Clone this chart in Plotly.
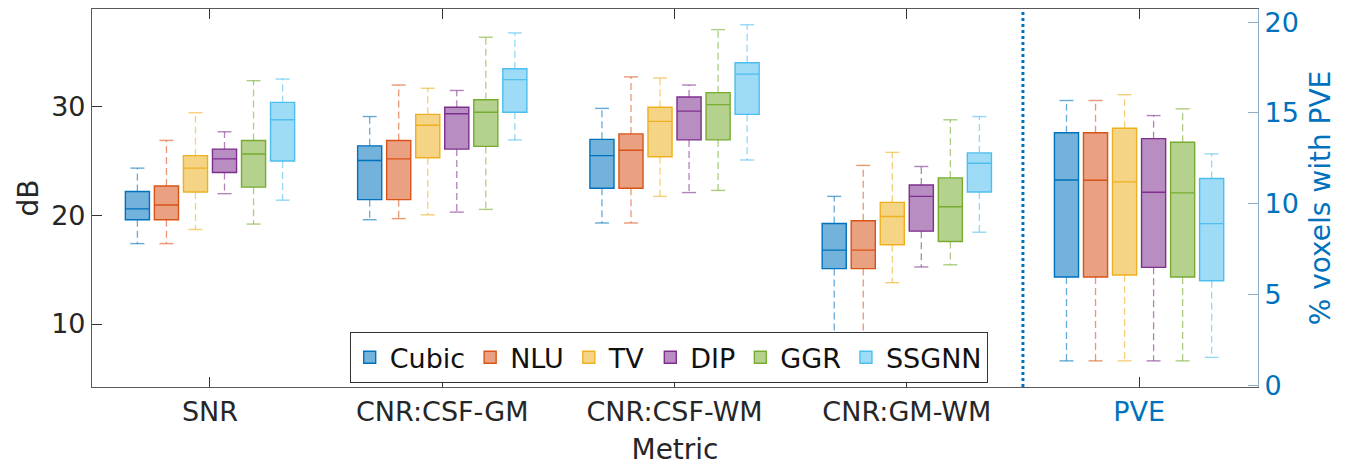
import plotly.graph_objects as go

# ---------------- data ----------------
metrics = ["SNR", "CNR:CSF-GM", "CNR:CSF-WM", "CNR:GM-WM"]
pve_category = ["PVE"]
methods = ["Cubic", "NLU", "TV", "DIP", "GGR", "SSGNN"]
rgb = [(0, 114, 189), (217, 83, 25), (237, 177, 32), (126, 47, 142), (119, 172, 48), (77, 190, 238)]

# dB metrics (left axis): one list per method, in the order of `metrics`
lower_db = {
    "Cubic": [17.4, 19.6, 19.3, 9.1],
    "NLU":   [17.4, 19.7, 19.3, 9.1],
    "TV":    [18.7, 20.05, 21.75, 13.8],
    "DIP":   [22.0, 20.3, 22.1, 15.25],
    "GGR":   [19.2, 20.55, 22.3, 15.45],
    "SSGNN": [21.4, 26.95, 25.1, 18.45],
}
q1_db = {
    "Cubic": [19.6, 21.45, 22.5, 15.1],
    "NLU":   [19.6, 21.45, 22.5, 15.1],
    "TV":    [22.15, 25.3, 25.4, 17.3],
    "DIP":   [23.95, 26.1, 26.95, 18.55],
    "GGR":   [22.6, 26.35, 26.95, 17.6],
    "SSGNN": [25.0, 29.5, 29.3, 22.15],
}
median_db = {
    "Cubic": [20.6, 25.05, 25.5, 16.8],
    "NLU":   [20.95, 25.2, 26.0, 16.8],
    "TV":    [24.35, 28.3, 28.65, 19.9],
    "DIP":   [25.2, 29.35, 29.6, 21.75],
    "GGR":   [25.65, 29.5, 30.2, 20.8],
    "SSGNN": [28.8, 32.5, 33.0, 24.8],
}
q3_db = {
    "Cubic": [22.2, 26.4, 27.0, 19.25],
    "NLU":   [22.7, 26.9, 27.5, 19.5],
    "TV":    [25.5, 29.3, 29.95, 21.2],
    "DIP":   [26.1, 29.95, 30.9, 22.8],
    "GGR":   [26.9, 30.65, 31.3, 23.45],
    "SSGNN": [30.4, 33.5, 34.05, 25.75],
}
upper_db = {
    "Cubic": [24.35, 29.1, 29.85, 21.75],
    "NLU":   [26.9, 32.0, 32.75, 24.6],
    "TV":    [29.45, 31.7, 32.65, 25.8],
    "DIP":   [27.7, 31.5, 32.0, 24.5],
    "GGR":   [32.4, 36.4, 37.1, 28.8],
    "SSGNN": [32.55, 36.8, 37.55, 29.1],
}

# PVE (% voxels, right axis): one value per method, in the order of `methods`
pve_lower = [1.34, 1.34, 1.34, 1.34, 1.34, 1.53]
pve_q1 = [5.96, 5.96, 6.07, 6.49, 5.96, 5.75]
pve_median = [11.3, 11.29, 11.2, 10.63, 10.59, 8.9]
pve_q3 = [13.9, 13.9, 14.15, 13.58, 13.38, 11.38]
pve_upper = [15.68, 15.68, 16.0, 14.85, 15.22, 12.74]

left_ticks = [10, 20, 30]
right_ticks = [0, 5, 10, 15, 20]

# ---------------- figure ----------------
FONT = "DejaVu Sans"
TXT = "#262626"
BLUE = "#0072BD"
AX = "#5a5a5a"


def rgba(c, a):
    return f"rgba({c[0]},{c[1]},{c[2]},{a})"


fig = go.Figure()


def add_boxes(i, m, cats, lo, q1, med, q3, hi, yaxis):
    c = rgb[i]
    # box (interquartile range + median)
    fig.add_trace(go.Box(
        name=m, legendgroup=m, showlegend=(yaxis == "y"), x=cats,
        lowerfence=q1, q1=q1, median=med, q3=q3, upperfence=q3,
        fillcolor=rgba(c, 0.55), line=dict(color=rgba(c, 1), width=1.4),
        whiskerwidth=0, yaxis=yaxis, hoverinfo="skip",
        offsetgroup=m, alignmentgroup="all",
    ))
    # dashed whiskers with end caps, built from the same quartile/fence values
    wx, wy, ws = [], [], []
    for k, cat in enumerate(cats):
        wx += [cat, cat, None, cat, cat, None]
        wy += [q3[k], hi[k], None, q1[k], lo[k], None]
        ws += [0, 10, 0, 0, 10, 0]
    fig.add_trace(go.Scatter(
        name=m, legendgroup=m, showlegend=False, x=wx, y=wy,
        mode="lines+markers", connectgaps=False,
        line=dict(color=rgba(c, 0.6), width=1.3, dash="7px,4px"),
        marker=dict(symbol="line-ew", size=ws,
                    line=dict(color=rgba(c, 0.85), width=1.4)),
        yaxis=yaxis, hoverinfo="skip",
        offsetgroup=m, alignmentgroup="all",
    ))


for i, m in enumerate(methods):
    add_boxes(i, m, metrics, lower_db[m], q1_db[m], median_db[m], q3_db[m], upper_db[m], "y")
for i, m in enumerate(methods):
    add_boxes(i, m, pve_category, [pve_lower[i]], [pve_q1[i]], [pve_median[i]],
              [pve_q3[i]], [pve_upper[i]], "y2")

categories = metrics + pve_category
ticktext = metrics + [f"<span style='color:{BLUE}'>PVE</span>"]

fig.update_layout(
    width=1358, height=466,
    margin=dict(l=92, r=100, t=9, b=79),
    paper_bgcolor="white", plot_bgcolor="white",
    font=dict(family=FONT, color=TXT, size=27),
    boxmode="group", boxgap=0.25, boxgroupgap=0.17,
    scattermode="group", scattergap=0.25,
    showlegend=True,
    legend=dict(
        orientation="h", x=0.221, y=0.01, xanchor="left", yanchor="bottom",
        bgcolor="white", bordercolor="#333333", borderwidth=1,
        font=dict(size=27, color="#111111"), itemwidth=30,
        tracegroupgap=0,
    ),
    xaxis=dict(
        type="category", categoryorder="array", categoryarray=categories,
        tickvals=categories, ticktext=ticktext,
        range=[-0.508, 4.512], automargin=False,
        showline=True, linecolor=AX, linewidth=1.2, mirror="ticks",
        ticks="inside", ticklen=10, tickcolor="#333333",
        tickfont=dict(size=27, color=TXT),
        title=dict(text="Metric", font=dict(size=28, color=TXT), standoff=16),
        showgrid=False, zeroline=False,
    ),
    yaxis=dict(
        range=[4.2, 39.0], tickvals=left_ticks, automargin=False,
        showline=True, linecolor=AX, linewidth=1.2,
        ticks="inside", ticklen=10, tickcolor="#333333",
        tickfont=dict(size=27, color=TXT),
        title=dict(text="dB", font=dict(size=28, color=TXT), standoff=4),
        showgrid=False, zeroline=False,
    ),
    yaxis2=dict(
        overlaying="y", side="right", range=[-0.1, 20.72], tickvals=right_ticks,
        automargin=False,
        showline=True, linecolor="#8fb0c8", linewidth=1.2,
        ticks="inside", ticklen=10, tickcolor="#8fb0c8",
        tickfont=dict(size=27, color=BLUE),
        title=dict(text="% voxels with PVE", font=dict(size=28, color=BLUE), standoff=12),
        showgrid=False, zeroline=False,
    ),
    shapes=[dict(
        type="line", xref="x", yref="paper", x0=3.5, x1=3.5, y0=0, y1=1,
        line=dict(color=BLUE, width=3, dash="dot"),
    )],
)

fig.write_html("out.html", config={"displayModeBar": False},
               post_script="document.body.style.margin='0';")
